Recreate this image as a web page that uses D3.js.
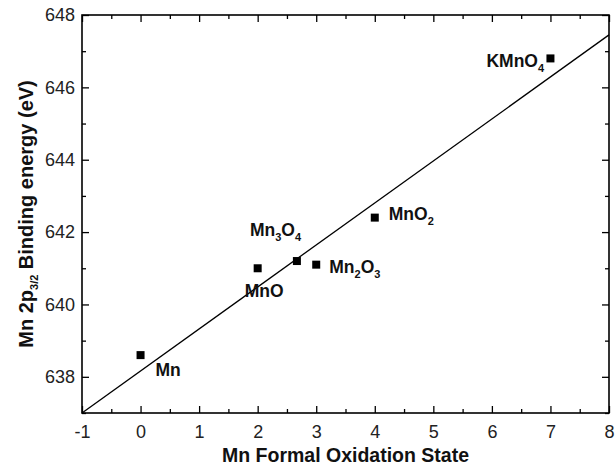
<!DOCTYPE html>
<html>
<head>
<meta charset="utf-8">
<script src="https://cdn.jsdelivr.net/npm/d3@7"></script>
<style>
  body { margin: 0; background: #fff; }
  text { font-family: "Liberation Sans", Arial, sans-serif; }
</style>
</head>
<body>
<div id="chart-area"></div>
<script>
// data
var compounds = ["Mn", "MnO", "Mn3O4", "Mn2O3", "MnO2", "KMnO4"];
var oxState = [0, 2, 2.67, 3, 4, 7];
var bindingEnergy = [638.6, 641.0, 641.2, 641.1, 642.4, 646.8];
var fitX = [-1, 8];
var fitY = [637.0, 647.45];
var xTicks = [-1, 0, 1, 2, 3, 4, 5, 6, 7, 8];
var yTicks = [638, 640, 642, 644, 646, 648];

var margin = { left: 82, right: 6, top: 15, bottom: 56 };
var W = 615, H = 469;
var chartWidth = W - margin.left - margin.right;
var chartHeight = H - margin.top - margin.bottom;

var svg = d3.select("#chart-area")
    .append("svg")
        .attr("width", W)
        .attr("height", H);
var g = svg.append("g")
    .attr("transform", "translate(" + margin.left + ", " + margin.top + ")");

var x = d3.scaleLinear().domain([-1, 8]).range([0, chartWidth]);
var y = d3.scaleLinear().domain([637, 648]).range([chartHeight, 0]);

var xMinor = d3.range(-0.5, 8, 1);
var yMinor = d3.range(637, 648, 2);

function styleAxis(sel) {
    sel.select(".domain").remove();
    sel.selectAll(".tick line").attr("stroke", "#000").attr("stroke-width", 1.3);
    sel.selectAll(".tick text")
        .attr("fill", "#222")
        .attr("font-size", "18px");
}

// bottom
g.append("g")
    .attr("transform", "translate(0," + chartHeight + ")")
    .call(d3.axisBottom(x).tickValues(xTicks).tickSize(-7).tickPadding(12)
        .tickFormat(function(d) { return String(d); }))
    .call(styleAxis);
g.append("g")
    .attr("transform", "translate(0," + chartHeight + ")")
    .call(d3.axisBottom(x).tickValues(xMinor).tickSize(-4).tickFormat(""))
    .call(styleAxis);
// top
g.append("g")
    .call(d3.axisTop(x).tickValues(xTicks).tickSize(-7).tickFormat(""))
    .call(styleAxis);
g.append("g")
    .call(d3.axisTop(x).tickValues(xMinor).tickSize(-4).tickFormat(""))
    .call(styleAxis);
// left
g.append("g")
    .call(d3.axisLeft(y).tickValues(yTicks).tickSize(-7).tickPadding(7)
        .tickFormat(function(d) { return String(d); }))
    .call(styleAxis);
g.append("g")
    .call(d3.axisLeft(y).tickValues(yMinor).tickSize(-4).tickFormat(""))
    .call(styleAxis);
// right
g.append("g")
    .attr("transform", "translate(" + chartWidth + ",0)")
    .call(d3.axisRight(y).tickValues(yTicks).tickSize(-7).tickFormat(""))
    .call(styleAxis);
g.append("g")
    .attr("transform", "translate(" + chartWidth + ",0)")
    .call(d3.axisRight(y).tickValues(yMinor).tickSize(-4).tickFormat(""))
    .call(styleAxis);

// frame
g.append("rect")
    .attr("width", chartWidth)
    .attr("height", chartHeight)
    .attr("fill", "none")
    .attr("stroke", "#000")
    .attr("stroke-width", 1.6);

// fit line
var line = d3.line()
    .x(function(d) { return x(d[0]); })
    .y(function(d) { return y(d[1]); });
g.append("path")
    .datum(d3.zip(fitX, fitY))
    .attr("d", line)
    .attr("fill", "none")
    .attr("stroke", "#000")
    .attr("stroke-width", 1.3);

// points
var points = d3.zip(compounds, oxState, bindingEnergy);
var size = 8;
g.selectAll("rect.pt")
    .data(points)
    .enter()
    .append("rect")
    .attr("class", "pt")
    .attr("x", function(d) { return x(d[1]) - size / 2; })
    .attr("y", function(d) { return y(d[2]) - size / 2; })
    .attr("width", size)
    .attr("height", size)
    .attr("fill", "#000");

// labels: offsets from the point, and the chemical formula split into parts
var labelOffset = {
    "Mn":    [15, 26],
    "MnO":   [-13, 34],
    "Mn3O4": [-47, -20],
    "Mn2O3": [13, 13],
    "MnO2":  [14, 7],
    "KMnO4": [-64, 14]
};
function formulaParts(name) {
    return name.match(/[A-Za-z]+|\d+/g);
}
points.forEach(function(d) {
    var off = labelOffset[d[0]];
    var t = g.append("text")
        .attr("x", x(d[1]) + off[0])
        .attr("y", y(d[2]) + off[1])
        .attr("font-size", "17.5px")
        .attr("font-weight", "bold")
        .attr("fill", "#111");
    formulaParts(d[0]).forEach(function(p) {
        if (/\d/.test(p)) {
            t.append("tspan").attr("font-size", "11px").attr("dy", 5).text(p);
        } else {
            t.append("tspan").attr("dy", t.selectAll("tspan").size() ? -5 : 0).text(p);
        }
    });
});

// axis titles
g.append("text")
    .attr("x", chartWidth / 2)
    .attr("y", chartHeight + 49)
    .attr("text-anchor", "middle")
    .attr("font-size", "19.5px")
    .attr("font-weight", "bold")
    .attr("fill", "#111")
    .text("Mn Formal Oxidation State");

var yLabel = g.append("text")
    .attr("transform", "translate(" + (-49) + "," + (chartHeight / 2) + ") rotate(-90)")
    .attr("text-anchor", "middle")
    .attr("font-size", "20px")
    .attr("font-weight", "bold")
    .attr("fill", "#111");
yLabel.append("tspan").text("Mn 2p");
yLabel.append("tspan").attr("font-size", "11px").attr("dy", 5).text("3/2");
yLabel.append("tspan").attr("dy", -5).text(" Binding energy (eV)");
</script>
</body>
</html>
